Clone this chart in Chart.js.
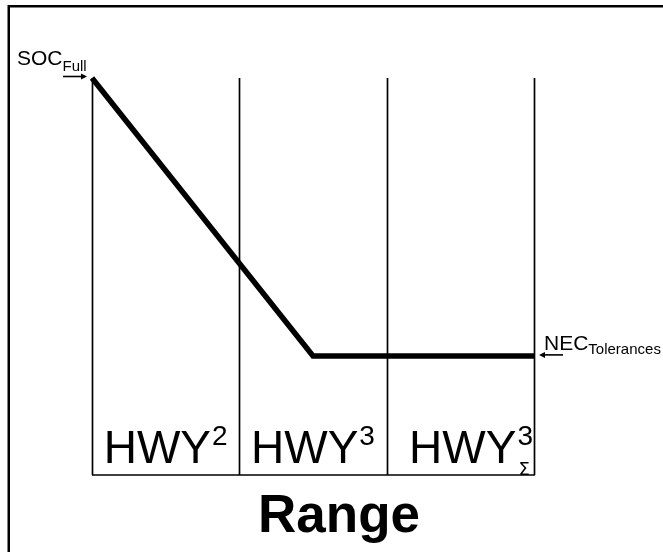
<!DOCTYPE html>
<html>
<head>
<meta charset="utf-8">
<script src="https://cdn.jsdelivr.net/npm/chart.js@4/dist/chart.umd.min.js"></script>
<style>
html,body{margin:0;padding:0;background:#fff;}
canvas{display:block;}
</style>
</head>
<body>
<canvas id="c" width="663" height="552"></canvas>
<script>
// Data
const rangeX = [0, 1.5, 3];          // position along range (segment units)
const socValues = [1, 0.3, 0.3];     // state of charge (normalised)
const segmentBounds = [0, 1, 2, 3];
const segmentNames = ['HWY', 'HWY', 'HWY'];
const segmentSup = ['2', '3', '3'];
const segmentSub = ['', '', 'Σ'];
const axisTitle = 'Range';
const topLabel = ['SOC', 'Full'];
const levelLabel = ['NEC', 'Tolerances'];

const FONT = '"Liberation Sans", Arial, sans-serif';

const decor = {
  id: 'decor',
  beforeDatasetsDraw(chart) {
    const ctx = chart.ctx;
    const xs = chart.scales.x, ys = chart.scales.y;
    const top = ys.getPixelForValue(1), bottom = ys.getPixelForValue(0);
    ctx.save();
    // outer frame (top & left)
    ctx.strokeStyle = '#000';
    ctx.lineWidth = 2.5;
    ctx.beginPath();
    ctx.moveTo(8.75, 552);
    ctx.lineTo(8.75, 6.25);
    ctx.lineTo(663, 6.25);
    ctx.stroke();
    // segment dividers
    ctx.lineWidth = 1.7;
    ctx.beginPath();
    segmentBounds.forEach(b => {
      const px = Math.round(xs.getPixelForValue(b)) + 0.5;
      ctx.moveTo(px, top);
      ctx.lineTo(px, bottom);
    });
    ctx.moveTo(xs.getPixelForValue(0), bottom);
    ctx.lineTo(xs.getPixelForValue(3) + 0.85, bottom);
    ctx.stroke();
    ctx.restore();
  },
  afterDraw(chart) {
    const ctx = chart.ctx;
    const xs = chart.scales.x, ys = chart.scales.y;
    ctx.save();
    ctx.fillStyle = '#000';
    ctx.textBaseline = 'alphabetic';
    const bottom = ys.getPixelForValue(0);
    // segment labels
    for (let i = 0; i < segmentNames.length; i++) {
      const left = xs.getPixelForValue(segmentBounds[i]);
      const right = xs.getPixelForValue(segmentBounds[i + 1]);
      const cx = (left + right) / 2;
      ctx.font = '46px ' + FONT;
      const w1 = ctx.measureText(segmentNames[i]).width;
      ctx.font = '28px ' + FONT;
      const w2 = ctx.measureText(segmentSup[i]).width;
      const total = w1 + 1 + w2;
      let x0 = cx - total / 2;
      if (x0 + total > right - 2) x0 = right - 2 - total;
      if (segmentSub[i]) x0 = right - 1 - total;
      const base = bottom - 12;
      ctx.textAlign = 'left';
      ctx.font = '46px ' + FONT;
      ctx.fillText(segmentNames[i], x0, base);
      ctx.font = '28px ' + FONT;
      ctx.fillText(segmentSup[i], x0 + w1 + 1, base - 18);
      if (segmentSub[i]) {
        ctx.font = '18px "DejaVu Sans", ' + FONT;
        ctx.fillText(segmentSub[i], x0 + w1 + 2, bottom - 0.5);
      }
    }
    // axis title
    ctx.font = 'bold 53px ' + FONT;
    ctx.textAlign = 'center';
    ctx.fillText(axisTitle, (xs.getPixelForValue(0) + xs.getPixelForValue(3)) / 2 + 26, 532);

    // SOC Full label + arrow
    const sx = xs.getPixelForValue(rangeX[0]), sy = ys.getPixelForValue(socValues[0]);
    ctx.textAlign = 'left';
    ctx.font = '21px ' + FONT;
    const socW = ctx.measureText(topLabel[0]).width;
    ctx.fillText(topLabel[0], 17, sy - 13);
    ctx.font = '15px ' + FONT;
    ctx.fillText(topLabel[1], 17 + socW, sy - 7);
    ctx.strokeStyle = '#000';
    ctx.lineWidth = 1.6;
    ctx.beginPath();
    ctx.moveTo(sx - 29, sy - 1.5);
    ctx.lineTo(sx - 7, sy - 1.5);
    ctx.stroke();
    ctx.beginPath();
    ctx.moveTo(sx - 5, sy - 1.5);
    ctx.lineTo(sx - 11, sy - 4.5);
    ctx.lineTo(sx - 11, sy + 1.5);
    ctx.closePath();
    ctx.fill();

    // NEC Tolerances label + arrow
    const n = rangeX.length - 1;
    const ex = xs.getPixelForValue(rangeX[n]), ey = ys.getPixelForValue(socValues[n]);
    ctx.font = '21px ' + FONT;
    const necW = ctx.measureText(levelLabel[0]).width;
    ctx.fillText(levelLabel[0], ex + 10, ey - 6);
    ctx.font = '15px ' + FONT;
    ctx.fillText(levelLabel[1], ex + 10 + necW, ey - 2);
    ctx.beginPath();
    ctx.moveTo(ex + 9, ey - 1);
    ctx.lineTo(ex + 29, ey - 1);
    ctx.stroke();
    ctx.beginPath();
    ctx.moveTo(ex + 5, ey - 1);
    ctx.lineTo(ex + 11, ey - 4);
    ctx.lineTo(ex + 11, ey + 2);
    ctx.closePath();
    ctx.fill();
    ctx.restore();
  }
};

new Chart(document.getElementById('c'), {
  type: 'line',
  data: {
    datasets: [{
      data: rangeX.map((x, i) => ({ x: x, y: socValues[i] })),
      borderColor: '#000',
      borderWidth: 5.5,
      pointRadius: 0,
      tension: 0,
      borderJoinStyle: 'miter',
      borderCapStyle: 'butt',
      clip: false
    }]
  },
  options: {
    responsive: false,
    animation: false,
    devicePixelRatio: 1,
    layout: { padding: { left: 92, right: 129, top: 78, bottom: 77 } },
    plugins: { legend: { display: false }, tooltip: { enabled: false }, title: { display: false } },
    scales: {
      x: { type: 'linear', min: 0, max: 3, display: false },
      y: { type: 'linear', min: 0, max: 1, display: false }
    }
  },
  plugins: [decor]
});
</script>
</body>
</html>
